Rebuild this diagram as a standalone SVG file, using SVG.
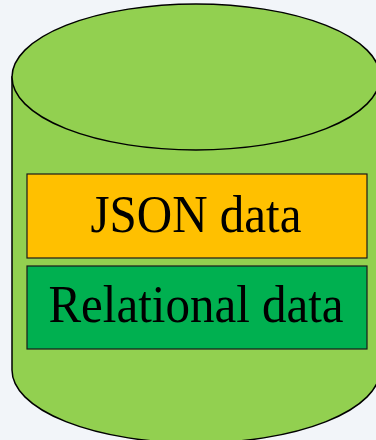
<svg xmlns="http://www.w3.org/2000/svg" width="376" height="440" viewBox="0 0 376 440">
<style>
.cyl{fill:#92D050;stroke:#000;stroke-width:1.5}
.box{stroke:#1a1a1a;stroke-width:1.2}
.lbl{font-family:"Liberation Serif","Times New Roman",serif;font-size:49px;fill:#000;text-anchor:middle}
</style>
<rect width="376" height="440" fill="#F2F5F9"/>
<g id="database">
<path class="cyl" d="M12,77 L12,370 A184,73 0 0 0 380,370 L380,77 Z"/>
<ellipse class="cyl" cx="196" cy="77" rx="184" ry="73"/>
</g>
<g id="json">
<rect class="box" x="27" y="174" width="340" height="84" fill="#FFC000"/>
<text class="lbl" transform="translate(196,232) scale(1,1.07)">JSON data</text>
</g>
<g id="relational">
<rect class="box" x="27" y="266" width="340" height="83" fill="#00B050"/>
<text class="lbl" transform="translate(196,322) scale(1,1.07)">Relational data</text>
</g>
<g id="connectors"/>
</svg>
